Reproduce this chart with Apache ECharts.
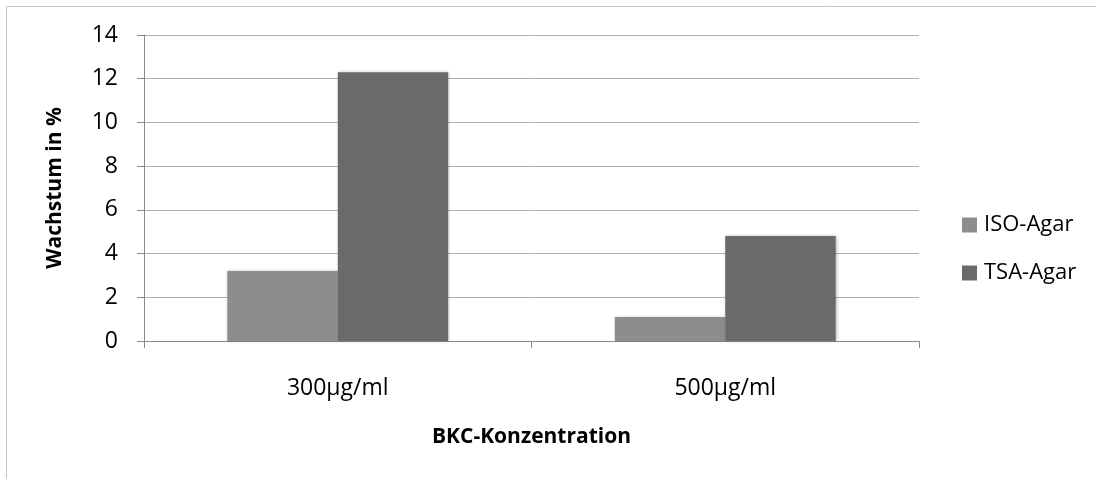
<!DOCTYPE html>
<html>
<head>
<meta charset="utf-8">
<script src="https://cdn.jsdelivr.net/npm/echarts@6/dist/echarts.min.js"></script>
<style>
html,body{margin:0;padding:0;background:#fff;}
#chart{width:1096px;height:479px;}
</style>
</head>
<body>
<div id="chart"></div>
<script>
const categories = ['300µg/ml', '500µg/ml'];
const isoAgar = [3.2, 1.1];
const tsaAgar = [12.3, 4.8];
const seriesNames = ['ISO-Agar', 'TSA-Agar'];
const yTicks = { min: 0, max: 14, interval: 2 };

const FONT = '"Open Sans", sans-serif';
const chart = echarts.init(document.getElementById('chart'), null, { renderer: 'canvas' });
chart.setOption({
  animation: false,
  backgroundColor: '#ffffff',
  graphic: [{
    type: 'rect',
    shape: { x: 6.5, y: 6.5, width: 1200, height: 600 },
    style: { fill: 'none', stroke: '#c6c6c6', lineWidth: 1 },
    silent: true
  }],
  grid: { left: 144, right: 177, top: 35, bottom: 138, containLabel: false },
  legend: {
    orient: 'vertical',
    left: 962,
    top: 214,
    padding: 0,
    itemWidth: 15,
    itemHeight: 15,
    itemGap: 26,
    icon: 'rect',
    textStyle: { fontFamily: FONT, fontSize: 22, color: '#000', padding: [0, 0, 0, 2] },
    data: seriesNames
  },
  xAxis: {
    type: 'category',
    data: categories,
    name: 'BKC-Konzentration',
    nameLocation: 'middle',
    nameGap: 86,
    nameTextStyle: { fontFamily: FONT, fontSize: 21, fontWeight: 'bold', color: '#000' },
    axisLine: { lineStyle: { color: '#8a8a8a', width: 1 } },
    axisTick: { show: true, length: 7, lineStyle: { color: '#8a8a8a' } },
    axisLabel: { fontFamily: FONT, fontSize: 23, color: '#000', margin: 36 },
    splitLine: { show: false }
  },
  yAxis: {
    type: 'value',
    min: yTicks.min,
    max: yTicks.max,
    interval: yTicks.interval,
    name: 'Wachstum in %',
    nameLocation: 'middle',
    nameGap: 78,
    nameTextStyle: { fontFamily: FONT, fontSize: 21, fontWeight: 'bold', color: '#000' },
    axisLine: { show: true, lineStyle: { color: '#8a8a8a', width: 1 } },
    axisTick: { show: true, length: 7, lineStyle: { color: '#8a8a8a' } },
    axisLabel: { fontFamily: FONT, fontSize: 23, color: '#000', margin: 26 },
    splitLine: { show: true, lineStyle: { color: '#b0b0b0', width: 1 } }
  },
  series: [
    {
      name: seriesNames[0],
      type: 'bar',
      data: isoAgar,
      barGap: '0%',
      barCategoryGap: '43%',
      itemStyle: { color: '#8d8d8d', shadowBlur: 3, shadowOffsetX: 1, shadowOffsetY: 0, shadowColor: 'rgba(0,0,0,0.25)' }
    },
    {
      name: seriesNames[1],
      type: 'bar',
      data: tsaAgar,
      barGap: '0%',
      barCategoryGap: '43%',
      itemStyle: { color: '#6a6a6a', shadowBlur: 3, shadowOffsetX: 1, shadowOffsetY: 0, shadowColor: 'rgba(0,0,0,0.25)' }
    }
  ]
});
</script>
</body>
</html>
